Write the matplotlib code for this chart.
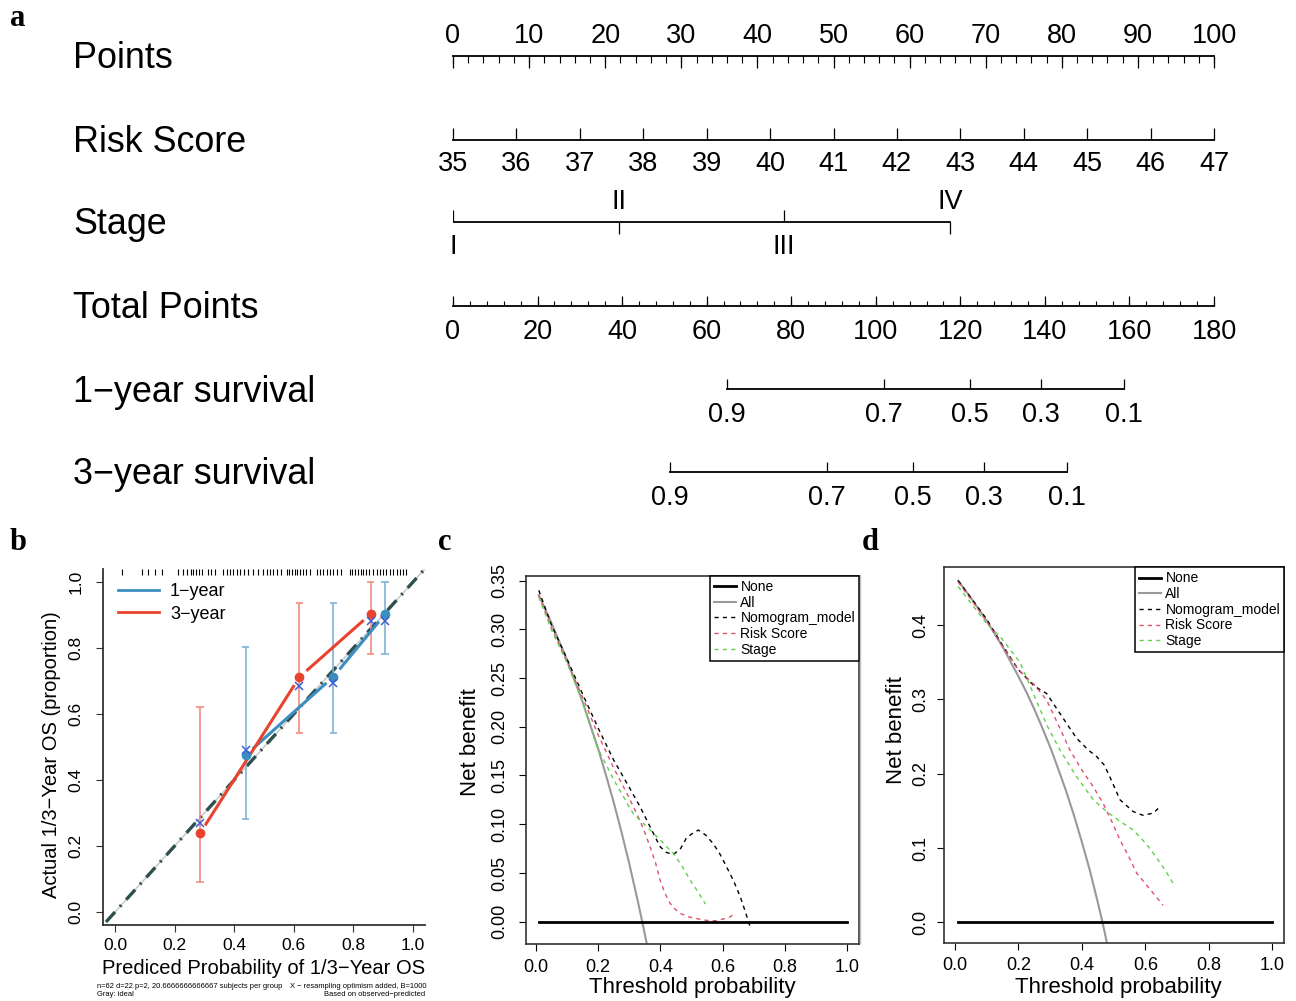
import numpy as np
import matplotlib
matplotlib.use('Agg')
import matplotlib.pyplot as plt
from matplotlib.lines import Line2D
from matplotlib.transforms import blended_transform_factory

# ---------------- data ----------------
# a: nomogram
points_major = np.arange(0, 101, 10)
points_minor = np.arange(0, 101, 2)
risk_score = np.arange(35, 48)
stage_labels = ['I', 'II', 'III', 'IV']
stage_points = [0, 21.8, 43.5, 65.3]
total_major = np.arange(0, 181, 20)
total_minor = np.arange(0, 181, 4)
surv_probs = ['0.9', '0.7', '0.5', '0.3', '0.1']
surv1_total = [64.8, 102.0, 122.3, 139.1, 158.7]
surv3_total = [51.3, 88.5, 108.8, 125.6, 145.2]

# b: calibration
y1_pred = [0.439, 0.733, 0.906]
y1_obs = [0.476, 0.713, 0.902]
y1_corr = [0.491, 0.694, 0.883]
y1_lo = [0.282, 0.541, 0.782]
y1_hi = [0.804, 0.935, 1.0]
y3_pred = [0.285, 0.619, 0.858]
y3_obs = [0.238, 0.712, 0.903]
y3_corr = [0.269, 0.686, 0.883]
y3_lo = [0.092, 0.541, 0.782]
y3_hi = [0.620, 0.937, 1.0]
rug = [0.022, 0.090, 0.112, 0.134, 0.159, 0.212, 0.227, 0.240, 0.254, 0.263,
       0.272, 0.282, 0.291, 0.313, 0.321, 0.335, 0.361, 0.375, 0.386, 0.397,
       0.410, 0.421, 0.434, 0.447, 0.464, 0.481, 0.497, 0.509, 0.520, 0.531,
       0.542, 0.556, 0.576, 0.585, 0.594, 0.603, 0.612, 0.621, 0.630, 0.641,
       0.654, 0.679, 0.688, 0.697, 0.710, 0.721, 0.733, 0.744, 0.757, 0.789,
       0.797, 0.806, 0.815, 0.824, 0.833, 0.842, 0.851, 0.867, 0.878, 0.889,
       0.900, 0.911, 0.923, 0.934, 0.945, 0.956, 0.967, 0.978]

# c: DCA (1-year)
c_all_x = [0.01, 0.05, 0.1, 0.15, 0.175, 0.2, 0.225, 0.25, 0.275, 0.3, 0.325, 0.342, 0.36]
c_all_y = [0.335, 0.307, 0.269, 0.226, 0.202, 0.178, 0.151, 0.123, 0.0925, 0.060, 0.025, 0.0, -0.028]
c_nom_x = [0.01, 0.05, 0.1, 0.15, 0.2, 0.25, 0.3, 0.335, 0.367, 0.399, 0.42, 0.442,
           0.465, 0.484, 0.505, 0.522, 0.545, 0.57, 0.592, 0.613, 0.635, 0.656, 0.672, 0.688]
c_nom_y = [0.340, 0.305, 0.270, 0.234, 0.199, 0.166, 0.138, 0.118, 0.0975, 0.077, 0.071, 0.069,
           0.075, 0.086, 0.091, 0.094, 0.089, 0.080, 0.069, 0.056, 0.042, 0.026, 0.011, -0.005]
c_risk_x = [0.01, 0.05, 0.1, 0.15, 0.2, 0.25, 0.3, 0.324, 0.345, 0.367, 0.385, 0.399,
            0.415, 0.431, 0.447, 0.463, 0.49, 0.527, 0.555, 0.581, 0.605, 0.624, 0.634]
c_risk_y = [0.335, 0.302, 0.267, 0.231, 0.192, 0.158, 0.127, 0.111, 0.096, 0.077, 0.060, 0.043,
            0.029, 0.019, 0.013, 0.0086, 0.005, 0.0025, 0.001, 0.001, 0.003, 0.005, 0.007]
c_stage_x = [0.01, 0.05, 0.1, 0.15, 0.196, 0.25, 0.3, 0.313, 0.356, 0.399, 0.42, 0.442,
             0.47, 0.495, 0.52, 0.545]
c_stage_y = [0.333, 0.300, 0.266, 0.226, 0.180, 0.146, 0.118, 0.111, 0.0975, 0.084, 0.077, 0.070,
             0.057, 0.043, 0.031, 0.018]

# d: DCA (3-year)
d_all_x = [0.01, 0.05, 0.1, 0.15, 0.2, 0.225, 0.25, 0.275, 0.3, 0.325, 0.35, 0.375,
           0.4, 0.425, 0.45, 0.465, 0.48]
d_all_y = [0.460, 0.437, 0.406, 0.371, 0.331, 0.310, 0.287, 0.262, 0.236, 0.207, 0.177, 0.144,
           0.108, 0.070, 0.027, 0.0, -0.03]
d_nom_x = [0.01, 0.05, 0.1, 0.15, 0.2, 0.25, 0.289, 0.331, 0.383, 0.42, 0.447, 0.47,
           0.488, 0.52, 0.562, 0.593, 0.625, 0.645]
d_nom_y = [0.460, 0.437, 0.408, 0.373, 0.340, 0.318, 0.308, 0.281, 0.248, 0.232, 0.223, 0.212,
           0.196, 0.165, 0.149, 0.144, 0.147, 0.155]
d_risk_x = [0.01, 0.05, 0.1, 0.15, 0.2, 0.25, 0.289, 0.33, 0.362, 0.4, 0.435, 0.467,
            0.495, 0.52, 0.547, 0.573, 0.6, 0.625, 0.656]
d_risk_y = [0.458, 0.435, 0.405, 0.372, 0.340, 0.320, 0.299, 0.262, 0.232, 0.205, 0.183, 0.160,
            0.135, 0.111, 0.089, 0.066, 0.052, 0.039, 0.023]
d_stage_x = [0.01, 0.05, 0.1, 0.142, 0.205, 0.247, 0.29, 0.331, 0.38, 0.436, 0.478, 0.52,
             0.562, 0.6, 0.625, 0.66, 0.688]
d_stage_y = [0.452, 0.430, 0.402, 0.385, 0.350, 0.308, 0.265, 0.232, 0.198, 0.165, 0.149, 0.136,
             0.124, 0.107, 0.093, 0.072, 0.052]

# ---------------- figure ----------------
W, H = 1296, 1001
plt.rcParams['font.family'] = ['Liberation Sans', 'DejaVu Sans']
fig = plt.figure(figsize=(W / 100, H / 100), dpi=100)


def fx(px):
    return px / W


def fy(py):
    return 1 - py / H


def add_ax(left, top, right, bottom):
    return fig.add_axes([fx(left), fy(bottom), (right - left) / W, (bottom - top) / H])


# panel letters
for lab, (px, py) in zip('abcd', [(18, 18), (18, 543), (445, 543), (870, 543)]):
    fig.text(fx(px), fy(py), lab, family='Liberation Serif', weight='bold',
             fontsize=22, ha='center', va='center')

# ---------------- a: nomogram ----------------
axa = add_ax(453, 0, 1214, 500)
axa.set_xlim(0, 100)
axa.set_ylim(500, 0)
axa.axis('off')
lab_tr = blended_transform_factory(fig.transFigure, axa.transData)

row_names = ['Points', 'Risk Score', 'Stage', 'Total Points',
             '1\u2212year survival', '3\u2212year survival']
row_y = [56, 140, 222, 306, 389, 472]
for name, y in zip(row_names, row_y):
    axa.text(fx(73), y + 3, name, transform=lab_tr, fontsize=25.8, ha='left', va='center')


def draw_scale(y, pos, labels, up, major_len, label_dy, minor=None, minor_len=0):
    sgn = -1 if up else 1
    axa.plot([min(pos), max(pos)], [y, y], color='black', lw=1.3, clip_on=False)
    axa.vlines(pos, y, y + sgn * major_len, color='black', lw=0.9, clip_on=False)
    if minor is not None:
        axa.vlines(minor, y, y + sgn * minor_len, color='black', lw=0.8, clip_on=False)
    for p, t in zip(pos, labels):
        axa.text(p, y + label_dy, t, fontsize=19.5, ha='center', va='center')


draw_scale(56, points_major, [str(v) for v in points_major], False, 12, -20,
           points_minor, 7)
draw_scale(140, (risk_score - 35) / 12 * 100, [str(v) for v in risk_score], True, 12, 24)

# stage: alternating ticks
axa.plot([stage_points[0], stage_points[-1]], [222, 222], color='black', lw=1.3)
for i, (p, t) in enumerate(zip(stage_points, stage_labels)):
    if i % 2 == 0:
        axa.vlines(p, 222, 210, color='black', lw=0.9)
        axa.text(p, 247, t, fontsize=19.5, ha='center', va='center')
    else:
        axa.vlines(p, 222, 234, color='black', lw=0.9)
        axa.text(p, 202, t, fontsize=19.5, ha='center', va='center')

draw_scale(306, total_major / 180 * 100, [str(v) for v in total_major], True, 10, 26,
           total_minor / 180 * 100, 5)
draw_scale(389, np.array(surv1_total) / 180 * 100, surv_probs, True, 10, 26)
draw_scale(472, np.array(surv3_total) / 180 * 100, surv_probs, True, 10, 26)

# ---------------- b: calibration ----------------
axb = add_ax(103.1, 568.8, 424.9, 925.2)
axb.set_xlim(-0.04, 1.04)
axb.set_ylim(-0.04, 1.04)
for s in ['top', 'right']:
    axb.spines[s].set_visible(False)
for s in ['left', 'bottom']:
    axb.spines[s].set_linewidth(1.3)
    axb.spines[s].set_color('#333333')
ticks = np.arange(0, 1.01, 0.2)
axb.set_xticks(ticks)
axb.set_xticklabels(['%.1f' % t for t in ticks], fontsize=12.5)
axb.set_yticks(ticks)
axb.set_yticklabels(['%.1f' % t for t in ticks], fontsize=12.5, rotation=90, va='center')
axb.tick_params(axis='x', length=5, pad=4.5, color='#333333')
axb.tick_params(axis='y', length=5, pad=9, color='#333333')

axb.plot([-0.03, 1.04], [-0.03, 1.04], color='#cccccc', lw=1.2, zorder=1)
axb.plot([-0.03, 1.04], [-0.03, 1.04], color='#2F4F4F', lw=2.4,
         dashes=(4, 2.2, 0.6, 2.2), zorder=2, clip_on=False)

blue = '#3C8DC0'
red = '#E8432E'


def type_b(ax, xs, ys, color, gap=0.03):
    for i in range(len(xs) - 1):
        x0, y0, x1, y1 = xs[i], ys[i], xs[i + 1], ys[i + 1]
        d = np.hypot(x1 - x0, y1 - y0)
        ux, uy = (x1 - x0) / d, (y1 - y0) / d
        ax.plot([x0 + gap * ux, x1 - gap * ux], [y0 + gap * uy, y1 - gap * uy],
                color=color, lw=2.2, solid_capstyle='butt', zorder=4)


for pred, obs, corr, lo, hi, col, ecol in [
        (y1_pred, y1_obs, y1_corr, y1_lo, y1_hi, blue, '#7FB3D5'),
        (y3_pred, y3_obs, y3_corr, y3_lo, y3_hi, red, '#F08C80')]:
    axb.vlines(pred, lo, hi, color=ecol, lw=1.2, zorder=3)
    axb.hlines(lo, np.array(pred) - 0.012, np.array(pred) + 0.012, color=ecol, lw=1.2, zorder=3)
    axb.hlines(hi, np.array(pred) - 0.012, np.array(pred) + 0.012, color=ecol, lw=1.2, zorder=3)
    type_b(axb, pred, obs, col)
    axb.plot(pred, obs, 'o', color=col, ms=6, zorder=5)
    axb.plot(pred, corr, 'x', color='#3B5FD0', ms=6, mew=1.1, zorder=6)

axb.vlines(rug, 1.02, 1.04, color='black', lw=0.8, clip_on=False)

leg_b = axb.legend([Line2D([], [], color=blue, lw=2), Line2D([], [], color=red, lw=2)],
                   ['1\u2212year', '3\u2212year'], loc='upper left',
                   bbox_to_anchor=(0.0, 1.0), frameon=False, fontsize=13,
                   handlelength=2.3, labelspacing=0.3, handletextpad=0.6, borderpad=0.3)

fig.text(fx(52), fy(755), 'Actual 1/3\u2212Year OS (proportion)', rotation=90,
         fontsize=14.5, ha='center', va='center')
fig.text(fx(264), fy(968), 'Prediced Probability of 1/3\u2212Year OS',
         fontsize=14.5, ha='center', va='center')
fig.text(fx(97), fy(986), 'n=62 d=22 p=2, 20.6666666666667 subjects per group',
         fontsize=5.4, ha='left', va='center')
fig.text(fx(426), fy(986), 'X \u2212 resampling optimism added, B=1000',
         fontsize=5.4, ha='right', va='center')
fig.text(fx(97), fy(995), 'Gray: ideal', fontsize=5.4, ha='left', va='center')
fig.text(fx(425), fy(995), 'Based on observed\u2212predicted', fontsize=5.4,
         ha='right', va='center')

# ---------------- c, d: decision curves ----------------
pink = '#DF536B'
green = '#61D04F'


def dca(ax, all_x, all_y, nom_x, nom_y, risk_x, risk_y, st_x, st_y):
    ax.plot([0.01, 1.0], [0, 0], color='black', lw=2, zorder=5)
    ax.plot(all_x, all_y, color='#999999', lw=1.5)
    ax.plot(nom_x, nom_y, color='black', lw=1, dashes=(3, 3))
    ax.plot(risk_x, risk_y, color=pink, lw=1, dashes=(3, 3))
    ax.plot(st_x, st_y, color=green, lw=1, dashes=(3, 3))
    for s in ax.spines.values():
        s.set_linewidth(1.2)
        s.set_color('#333333')
    ax.set_xticks(np.arange(0, 1.01, 0.2))
    ax.set_xticklabels(['%.1f' % t for t in np.arange(0, 1.01, 0.2)], fontsize=13)
    handles = [Line2D([], [], color='black', lw=2),
               Line2D([], [], color='#999999', lw=1.5),
               Line2D([], [], color='black', lw=1, dashes=(3, 3)),
               Line2D([], [], color=pink, lw=1, dashes=(3, 3)),
               Line2D([], [], color=green, lw=1, dashes=(3, 3))]
    leg = ax.legend(handles, ['None', 'All', 'Nomogram_model', 'Risk Score', 'Stage'],
                    loc='upper right', bbox_to_anchor=(1.0, 1.0), borderaxespad=0,
                    fontsize=10, handlelength=1.6, handletextpad=0.3, labelspacing=0.12,
                    borderpad=0.3, fancybox=False, framealpha=1, edgecolor='black')
    leg.get_frame().set_linewidth(1.1)


axc = add_ax(526, 575.7, 859.3, 944)
dca(axc, c_all_x, c_all_y, c_nom_x, c_nom_y, c_risk_x, c_risk_y, c_stage_x, c_stage_y)
axc.set_xlim(-0.031, 1.0385)
axc.set_ylim(-0.0229, 0.355)
yt = np.arange(0, 0.351, 0.05)
axc.set_yticks(yt)
axc.set_yticklabels(['%.2f' % t for t in yt], fontsize=13, rotation=90, va='center')
axc.tick_params(axis='x', length=5, pad=6)
axc.tick_params(axis='y', length=5, pad=8)
fig.text(fx(470), fy(742), 'Net benefit', rotation=90, fontsize=16, ha='center', va='center')
fig.text(fx(692), fy(987), 'Threshold probability', fontsize=16, ha='center', va='center')

axd = add_ax(944.3, 567.3, 1284.3, 942.7)
dca(axd, d_all_x, d_all_y, d_nom_x, d_nom_y, d_risk_x, d_risk_y, d_stage_x, d_stage_y)
axd.set_xlim(-0.0337, 1.038)
axd.set_ylim(-0.0275, 0.478)
yt = np.arange(0, 0.41, 0.1)
axd.set_yticks(yt)
axd.set_yticklabels(['%.1f' % t for t in yt], fontsize=13, rotation=90, va='center')
axd.tick_params(axis='x', length=5, pad=5)
axd.tick_params(axis='y', length=5, pad=6)
fig.text(fx(896), fy(730), 'Net benefit', rotation=90, fontsize=16, ha='center', va='center')
fig.text(fx(1118), fy(988), 'Threshold probability', fontsize=16, ha='center', va='center')

# thin gray border line at left of panel d
fig.add_artist(Line2D([fx(860), fx(860)], [fy(575), fy(943)], color='#c0c0c0', lw=1,
                      transform=fig.transFigure))

fig.savefig('out.png', dpi=100)
